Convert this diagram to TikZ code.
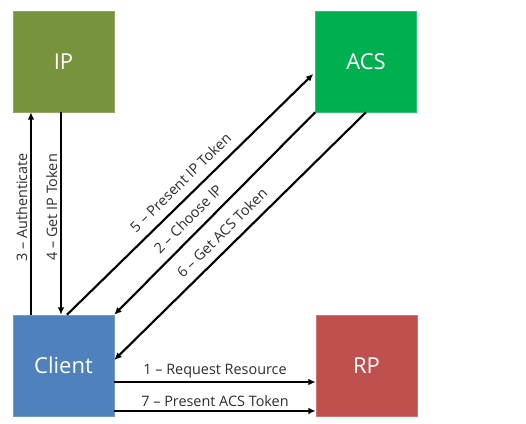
\documentclass[tikz,border=0pt]{standalone}
\usepackage{fontspec}
\setmainfont{Open Sans}
\usepackage{tikz}
\usetikzlibrary{arrows.meta, positioning}
\definecolor{figO}{RGB}{119,147,60}
\definecolor{figG}{RGB}{0,176,80}
\definecolor{figB}{RGB}{79,129,189}
\definecolor{figR}{RGB}{192,80,77}
\definecolor{figT}{RGB}{45,45,45}
\begin{document}
\begin{tikzpicture}[x=0.75pt, y=-0.75pt,
  box/.style={minimum width=75.75pt, minimum height=75.75pt, inner sep=0pt,
    text=white, font=\fontsize{16.5}{18}\selectfont},
  arr/.style={line width=1.6pt, -{Latex[length=5.5pt, width=5pt]}},
  rarr/.style={line width=1.6pt, {Latex[length=5.5pt, width=5pt]}-},
  lbl/.style={sloped, above, inner sep=2.5pt, text=figT,
    font=\fontsize{10.8}{12}\selectfont}]
\useasboundingbox (0,0) rectangle (526,424);
% boxes
\node[box, fill=figO, draw=figO!80!white] (ip) at (63.5,61.5) {IP};
\node[box, fill=figG, draw=figG!80!white] (acs) at (366,61.5) {ACS};
\node[box, fill=figB, draw=figB!80!white] (client) at (63.5,365.5) {Client};
\node[box, fill=figR, draw=figR!80!white] (rp) at (366.5,365.5) {RP};
% client <-> ip
\draw[arr] ([xshift=-24.4pt]client.north) -- ([xshift=-24.4pt]ip.south)
  node[lbl, pos=0.53, inner sep=2pt] {3 -- Authenticate};
\draw[rarr] ([xshift=-1.9pt]client.north) -- ([xshift=-1.9pt]ip.south)
  node[lbl, pos=0.53, inner sep=2pt] {4 -- Get IP Token};
% client <-> acs
\draw[arr, shorten >=2pt] ([xshift=2.6pt]client.north) -- ([yshift=-7.9pt]acs.west)
  node[lbl, pos=0.50, inner sep=6.5pt] {5 -- Present IP Token};
\draw[arr, rarr] (client.north east) -- (acs.south west)
  node[lbl, pos=0.42, inner sep=6.5pt] {2 -- Choose IP};
\draw[rarr] ([yshift=4.1pt]client.east) -- (acs.south)
  node[lbl, pos=0.47, inner sep=6.5pt] {6 -- Get ACS Token};
% client -> rp
\draw[arr] ([yshift=-12.4pt]client.east) -- ([yshift=-12.4pt]rp.west)
  node[lbl, midway] {1 -- Request Resource};
\draw[arr] ([yshift=-34.1pt]client.east) -- ([yshift=-34.1pt]rp.west)
  node[lbl, midway] {7 -- Present ACS Token};
\end{tikzpicture}
\end{document}
